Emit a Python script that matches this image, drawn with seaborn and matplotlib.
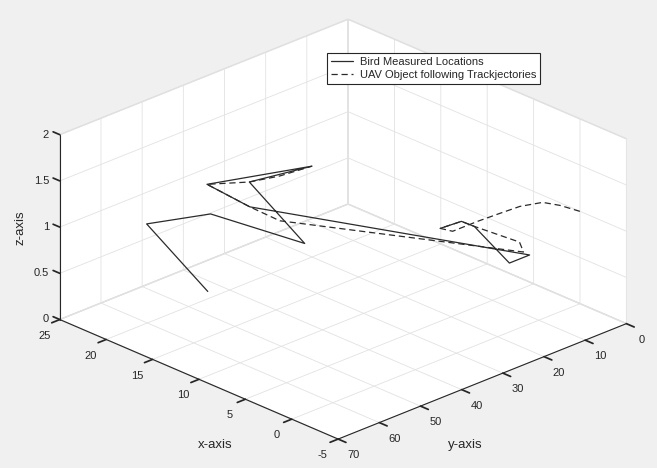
import matplotlib
matplotlib.use("Agg")
import matplotlib.pyplot as plt
import seaborn as sns

# Bird measured locations (solid line)
bird_x = [17.35, 20.9, 17.67, 12.54, 16.2, 11.4, 16.9, 15.35, 0.55, 1.75, 3.54, 4.26, 5.65]
bird_y = [51.3, 58.15, 49.9, 38.6, 43.8, 39.4, 52.5, 45.6, 11.0, 13.2, 17.7, 19.2, 21.2]
bird_z = [0.3, 1.0, 1.1, 0.8, 1.4, 1.7, 1.5, 1.2, 0.7, 0.6, 1.0, 1.05, 0.95]

# UAV following trajectory (dashed line)
uav_x = [-4.2, -3.0, -1.7, -0.44, 0.9, 2.82, 4.63, 5.65, 4.26, 3.54, 1.55, 1.25,
         13.18, 15.35, 16.9, 16.2, 13.6, 11.4]
uav_y = [9.5, 11.6, 12.9, 15.6, 17.5, 18.5, 20.5, 21.2, 19.2, 17.7, 11.2, 10.9,
         43.2, 45.6, 52.5, 43.8, 42.3, 39.4]
uav_z = [1.35, 1.4, 1.4, 1.35, 1.25, 1.1, 0.95, 0.95, 1.05, 1.0, 0.8, 0.7,
         1.1, 1.2, 1.5, 1.4, 1.55, 1.7]

x_ticks = [-5, 0, 5, 10, 15, 20, 25]
y_ticks = [0, 10, 20, 30, 40, 50, 60, 70]
z_ticks = [0, 0.5, 1, 1.5, 2]
z_ticklabels = ["0", "0.5", "1", "1.5", "2"]

labels = ["Bird Measured Locations", "UAV Object following Trackjectories"]

sns.set_theme(style="white")
plt.rcParams['font.family'] = ['Liberation Sans', 'DejaVu Sans']
plt.rcParams['axes.unicode_minus'] = False
plt.rcParams['grid.color'] = '#e2e2e2'
plt.rcParams['grid.linewidth'] = 0.6
plt.rcParams['axes3d.grid'] = True

BG = '#f0f0f0'
TXT = '#262626'

fig = plt.figure(figsize=(6.57, 4.68), dpi=100, facecolor=BG)
ax = fig.add_axes([-0.008, -0.034, 1.04, 1.06], projection='3d', proj_type='ortho')
ax.set_facecolor(BG)
# viewer on the +x/-y side with both horizontal axes reversed (MATLAB-like look)
ax.view_init(elev=24.5, azim=-44.0)
ax.set_box_aspect((1, 1, 0.507), zoom=1.178)

line_color = '#2b2b2b'
ax.plot(bird_x, bird_y, bird_z, color=line_color, linewidth=0.9, linestyle='-', label=labels[0])
ax.plot(uav_x, uav_y, uav_z, color=line_color, linewidth=0.9, linestyle=(0, (5, 3)), label=labels[1])

ax.set_xlim(25, -5)
ax.set_ylim(70, 0)
ax.set_zlim(0, 2)
ax.set_xticks(x_ticks)
ax.set_yticks(y_ticks)
ax.set_zticks(z_ticks)
ax.set_zticklabels(z_ticklabels)

for axis in (ax.xaxis, ax.yaxis, ax.zaxis):
    axis.set_pane_color((1, 1, 1, 1))
    axis.pane.set_edgecolor('#dcdcdc')
    axis.line.set_color(TXT)
    axis.line.set_linewidth(0.8)
    axis._axinfo['tick']['inward_factor'] = 0.35
    axis._axinfo['tick']['outward_factor'] = 0.0
    axis._axinfo['tick']['color'] = TXT
ax.zaxis._axinfo['tick']['inward_factor'] = 0.0
ax.zaxis._axinfo['tick']['outward_factor'] = 0.3

ax.zaxis.set_ticks_position('upper')

ax.tick_params(axis='both', colors=TXT, labelsize=8, pad=2)
ax.tick_params(axis='z', colors=TXT, labelsize=8, pad=-4.5)
for t in ax.zaxis.get_majorticklabels():
    t.set_horizontalalignment('right')
    t.set_verticalalignment('center')
for t in ax.xaxis.get_majorticklabels() + ax.yaxis.get_majorticklabels():
    t.set_verticalalignment('center')

fig.text(215 / 657, 1 - 445 / 468, 'x-axis', fontsize=9.5, color=TXT, ha='center', va='center')
fig.text(465 / 657, 1 - 445 / 468, 'y-axis', fontsize=9.5, color=TXT, ha='center', va='center')
fig.text(20 / 657, 1 - 228 / 468, 'z-axis', fontsize=9.5, color=TXT, ha='center', va='center', rotation=90)

leg = ax.legend(loc='lower left', bbox_to_anchor=(327 / 657, 1 - 84 / 468),
                bbox_transform=fig.transFigure, frameon=True, fancybox=False,
                fontsize=8, handlelength=2.0, handletextpad=0.6, borderpad=0.35,
                labelspacing=0.3, borderaxespad=0)
leg.get_frame().set_edgecolor('#262626')
leg.get_frame().set_linewidth(0.8)
leg.get_frame().set_facecolor('white')
leg.get_frame().set_alpha(1)

fig.savefig('out.png', dpi=100, facecolor=BG)
